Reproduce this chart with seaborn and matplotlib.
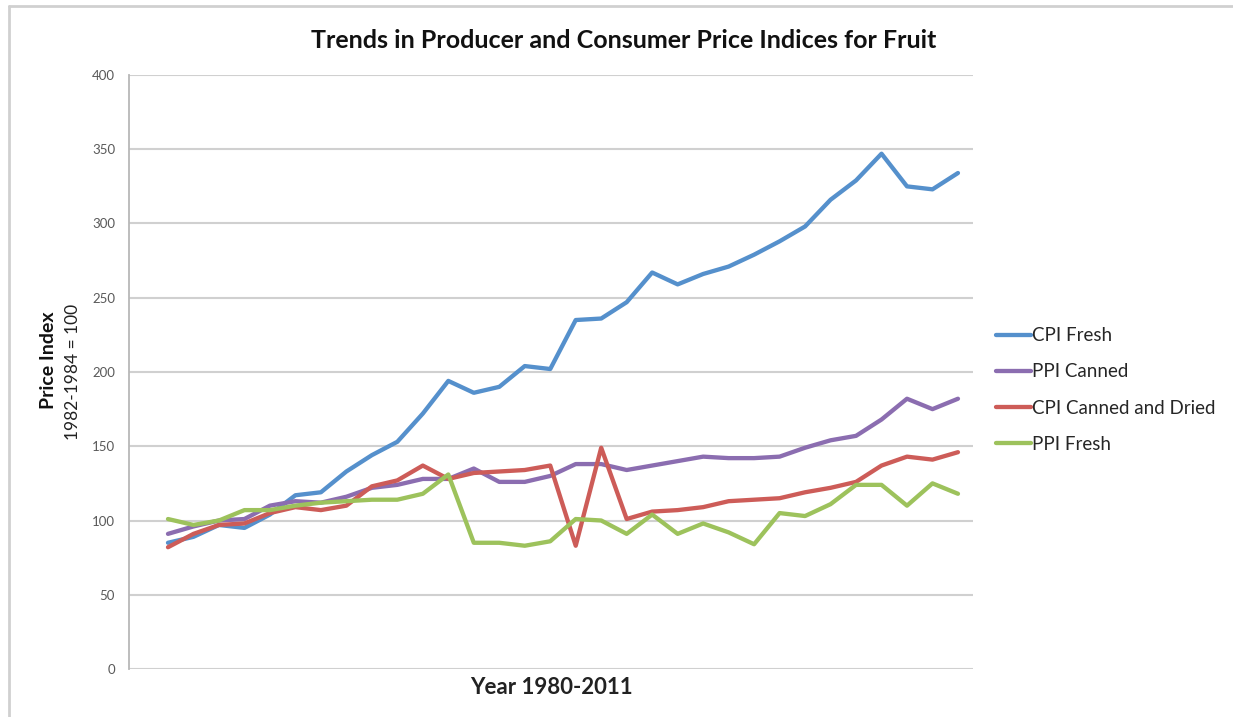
import numpy as np
import pandas as pd
import matplotlib
matplotlib.use("Agg")
import matplotlib.pyplot as plt
import seaborn as sns

# --- data (index values, 1982-1984 = 100) ---
years = list(range(1980, 2012))

cpi_fresh = [85, 89, 97, 95, 104, 117, 119, 133, 144, 153, 172, 194,
             186, 190, 204, 202, 235, 236, 247, 267, 259, 266, 271, 279,
             288, 298, 316, 329, 347, 325, 323, 334]

ppi_canned = [91, 96, 100, 101, 110, 113, 112, 116, 122, 124, 128, 128,
              135, 126, 126, 130, 138, 138, 134, 137, 140, 143, 142, 142,
              143, 149, 154, 157, 168, 182, 175, 182]

cpi_canned_dried = [82, 91, 97, 98, 105, 109, 107, 110, 123, 127, 137, 128,
                    132, 133, 134, 137, 83, 149, 101, 106, 107, 109, 113, 114,
                    115, 119, 122, 126, 137, 143, 141, 146]

ppi_fresh = [101, 97, 100, 107, 107, 110, 112, 113, 114, 114, 118, 131,
             85, 85, 83, 86, 101, 100, 91, 104, 91, 98, 92, 84,
             105, 103, 111, 124, 124, 110, 125, 118]

series_names = ["CPI Fresh", "PPI Canned", "CPI Canned and Dried", "PPI Fresh"]
series_colors = ["#5590CC", "#8B6DB0", "#CD5C58", "#9DC25C"]

# long format table for seaborn
df = pd.DataFrame({
    "Year": years * 4,
    "Index": cpi_fresh + ppi_canned + cpi_canned_dried + ppi_fresh,
    "Series": np.repeat(series_names, len(years)),
})
df["Pos"] = df["Year"] - years[0]

sns.set_style("white")
plt.rcParams["font.family"] = ["Lato", "DejaVu Sans"]

fig = plt.figure(figsize=(12.33, 7.17), dpi=100)
ax = fig.add_axes([129 / 1233, 1 - 669 / 717, 844 / 1233, 594 / 717])

sns.lineplot(data=df, x="Pos", y="Index", hue="Series", hue_order=series_names,
             palette=series_colors, linewidth=3.1, ax=ax, legend=True)

ax.set_xlim(-1.53, 31.59)
ax.set_ylim(0, 400)
ax.set_yticks(range(0, 401, 50))
ax.set_xticks([])
ax.tick_params(axis="y", length=0, labelsize=9.5, labelcolor="#595959", pad=10)
ax.yaxis.grid(True, color="#D0D0D0", linewidth=1.5)
ax.set_axisbelow(True)
for s in ["top", "right", "bottom"]:
    ax.spines[s].set_visible(False)
ax.spines["left"].set_color("#B8B8B8")
ax.spines["left"].set_linewidth(1.3)
ax.set_xlabel("")
ax.set_ylabel("")

# titles and labels
fig.text(624 / 1233, 1 - 40 / 717, "Trends in Producer and Consumer Price Indices for Fruit",
         ha="center", va="center", fontsize=18, fontweight="bold", color="#111111")
fig.text(551 / 1233, 1 - 688 / 717, "Year 1980-2011", ha="center", va="center",
         fontsize=16, fontweight="bold", color="#222222")
fig.text(48 / 1233, 1 - 360 / 717, "Price Index", ha="center", va="center",
         rotation=90, fontsize=14, fontweight="bold", color="#111111")
fig.text(73 / 1233, 1 - 372 / 717, "1982-1984 = 100", ha="center", va="center",
         rotation=90, fontsize=12.5, color="#222222")

# legend to the right of the plot
ax.legend(loc="center left", bbox_to_anchor=(996 / 1233, 1 - 390 / 717),
          bbox_transform=fig.transFigure, frameon=False, fontsize=13.5,
          handlelength=1.85, handletextpad=0.05, labelspacing=1.02,
          borderaxespad=0, borderpad=0)

# outer chart frame (top and left edges visible in the reference)
fig.add_artist(plt.Line2D([9 / 1233, 9 / 1233], [0, 1 - 6 / 717],
                          transform=fig.transFigure, color="#D0D0D0", linewidth=2))
fig.add_artist(plt.Line2D([9 / 1233, 1], [1 - 6 / 717, 1 - 6 / 717],
                          transform=fig.transFigure, color="#D0D0D0", linewidth=2))

plt.savefig("out.png", dpi=100)
